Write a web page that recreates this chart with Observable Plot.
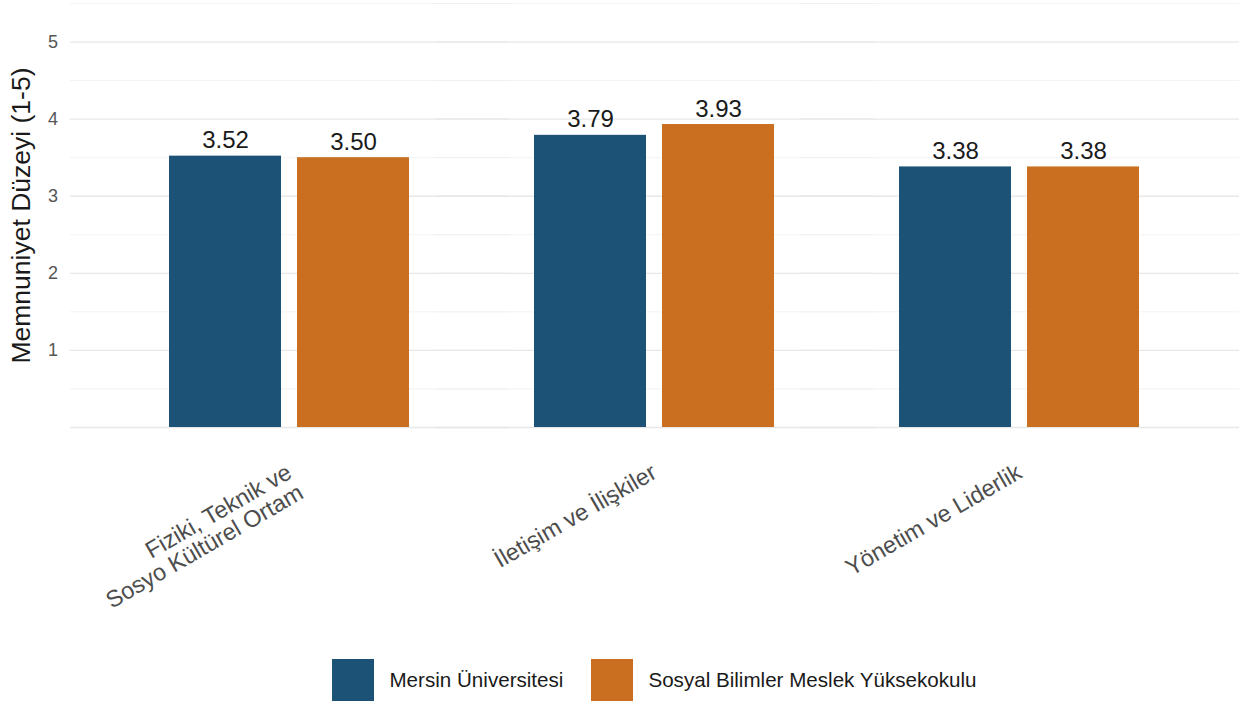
<!DOCTYPE html>
<html><head><meta charset="utf-8">
<script src="https://cdn.jsdelivr.net/npm/d3@7"></script>
<script src="https://cdn.jsdelivr.net/npm/@observablehq/plot@0.6"></script>
<style>
body{margin:0;background:#fff;font-family:"Liberation Sans",Arial,sans-serif}
#legend{display:flex;justify-content:center;align-items:center;padding-left:70px;padding-right:2px;margin-top:9px;font-size:20.6px;color:#1a1a1a;width:1169px}
.item{display:flex;align-items:center;margin:0 14px}
.key{width:42px;height:42px;margin-right:15px}
</style></head>
<body><div id="chart"></div><div id="legend"></div>
<script>
const categories = ["Fiziki, Teknik ve\nSosyo Kültürel Ortam", "İletişim ve İlişkiler", "Yönetim ve Liderlik"];
const series = ["Mersin Üniversitesi", "Sosyal Bilimler Meslek Yüksekokulu"];
const mersin = [3.52, 3.79, 3.38];
const sbmyo = [3.50, 3.93, 3.38];
const colors = ["#1c5276", "#c96f1f"];
const yTicks = [1, 2, 3, 4, 5];
const gridMajor = [0, 1, 2, 3, 4, 5];
const gridMinor = [0.5, 1.5, 2.5, 3.5, 4.5, 5.5];
const yTitle = "Memnuniyet Düzeyi (1-5)";

const data = [];
categories.forEach((c, i) => {
  data.push({cat: c, series: series[0], value: mersin[i]});
  data.push({cat: c, series: series[1], value: sbmyo[i]});
});

const chart = Plot.plot({
  width: 1241, height: 650,
  marginTop: 3, marginLeft: 70, marginRight: 2, marginBottom: 223,
  style: {fontFamily: "Liberation Sans, Arial, sans-serif", background: "#fff"},
  fx: {domain: categories, paddingInner: 0, paddingOuter: 0.1, label: null},
  x: {domain: series, paddingInner: 0.124, paddingOuter: 0.477, axis: null},
  y: {domain: [0, 5.5], axis: null},
  color: {domain: series, range: colors},
  marks: [
    Plot.ruleY(gridMinor, {stroke: "#eeeeee", strokeWidth: 0.7, insetLeft: -37, insetRight: -37}),
    Plot.ruleY(gridMajor, {stroke: "#e8e8e8", strokeWidth: 1.3, insetLeft: -37, insetRight: -37}),
    Plot.axisY({ticks: yTicks, tickFormat: d => String(d), tickSize: 0, tickPadding: 13, dx: -36.5, fontSize: 18, fill: "#555", label: yTitle, labelAnchor: "center", labelOffset: 96}),
    Plot.barY(data, {fx: "cat", x: "series", y: "value", fill: "series"}),
    Plot.text(data, {fx: "cat", x: "series", y: "value", text: d => d.value.toFixed(2), lineAnchor: "bottom", dy: -8, fontSize: 24, fill: "#1a1a1a"}),
    Plot.axisFx({anchor: "bottom", tickSize: 0, tickRotate: -30, textAnchor: "end", lineAnchor: "top", tickPadding: 35, dx: -5, fontSize: 23.5, fill: "#4d4d4d", label: null})
  ]
});
document.getElementById("chart").appendChild(chart);
const lab = chart.querySelector('[aria-label="y-axis label"]');
if (lab) {
  lab.setAttribute("font-size", 26.5); lab.setAttribute("fill", "#1a1a1a");
  lab.querySelectorAll("text").forEach(t => { t.textContent = yTitle; });
}

const legend = document.getElementById("legend");
series.forEach((s, i) => {
  const it = document.createElement("div"); it.className = "item";
  const k = document.createElement("div"); k.className = "key"; k.style.background = colors[i];
  const t = document.createElement("span"); t.textContent = s;
  it.appendChild(k); it.appendChild(t); legend.appendChild(it);
});
</script></body></html>
